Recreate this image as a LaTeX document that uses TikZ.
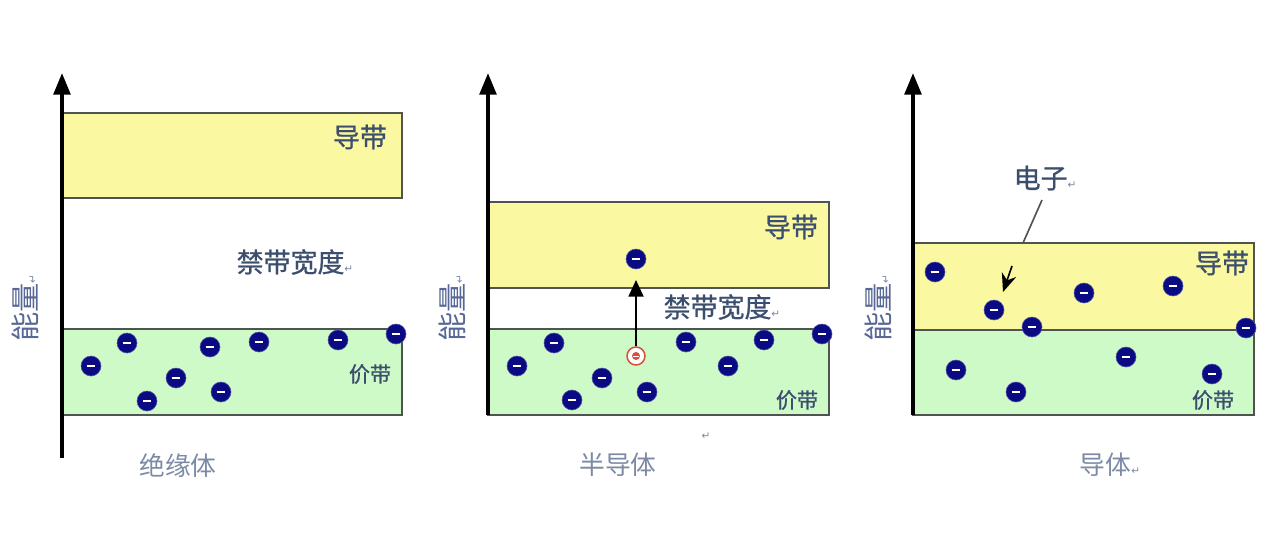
\documentclass[tikz,border=0pt]{standalone}
\usepackage{fontspec}
\setmainfont{Noto Sans CJK SC}
\newfontfamily\boldcjk[FakeBold=0.9]{Noto Sans CJK SC}
\newfontfamily\symfont{DejaVu Sans}
\usepackage{tikz}
\usetikzlibrary{arrows.meta, positioning, calc}
\definecolor{cbyellow}{RGB}{250, 248, 160}
\definecolor{vbgreen}{RGB}{206, 250, 200}
\definecolor{bandline}{RGB}{80, 84, 80}
\definecolor{elecblue}{RGB}{10, 10, 130}
\definecolor{holered}{RGB}{215, 80, 60}
\definecolor{darklabel}{RGB}{60, 78, 110}
\definecolor{lightlabel}{RGB}{125, 138, 165}
\definecolor{axislabel}{RGB}{88, 104, 150}
\newcommand{\retmark}{{\symfont\fontsize{9}{9}\selectfont\textcolor{lightlabel}{↵}}}

\tikzset{
    axis/.style={line width=3.2pt, -{Triangle[length=6.5mm, width=5mm]}},
    cband/.style={fill=cbyellow, draw=bandline, line width=2pt},
    vband/.style={fill=vbgreen, draw=bandline, line width=2pt},
    elec/.style={circle, fill=elecblue, draw=elecblue!70!white, line width=0.5pt,
                 minimum size=6mm, inner sep=0pt,
                 path picture={\draw[white, line width=1.3pt]
                   ($(path picture bounding box.center)+(-1.3mm,0)$) --
                   ($(path picture bounding box.center)+(1.3mm,0)$);}},
    hole/.style={circle, draw=holered, line width=1.3pt, fill=white, minimum size=5.4mm, inner sep=0pt,
                 path picture={\fill[holered] (path picture bounding box.center) circle (1.2mm);
                   \draw[white, line width=0.6pt]
                   ($(path picture bounding box.center)+(-0.8mm,0)$) --
                   ($(path picture bounding box.center)+(0.8mm,0)$);}},
    bandtext/.style={text=darklabel, font=\boldcjk\fontsize{23}{26}\selectfont, inner sep=0pt},
    vbtext/.style={text=darklabel, font=\boldcjk\fontsize{18}{20}\selectfont, inner sep=0pt},
    kindtext/.style={text=lightlabel, font=\fontsize{22}{25}\selectfont, inner sep=0pt},
    energytext/.style={text=axislabel, font=\fontsize{25}{28}\selectfont, rotate=90, inner sep=0pt},
}

\begin{document}
\begin{tikzpicture}[x=0.3mm, y=-0.3mm]
    \useasboundingbox[fill=white] (0,0) rectangle (1269,544);

    % insulator
    \draw[cband] (62,113) rectangle (402,198);
    \draw[vband] (62,329) rectangle (402,415);
    \draw[axis] (62,458) -- (62,73);
    \node[bandtext] (cb1) at (360,137) {导带};
    \node[bandtext] (gap1) at (295,262) {禁带宽度\retmark};
    \node[vbtext] (vb1) at (370,374) {价带};
    \node[kindtext] (kind1) at (178,466) {绝缘体};
    \node[energytext] (en1) at (25,308) {能量\retmark};
    \foreach \x/\y [count=\i] in {91/366, 127/343, 147/401, 176/378, 210/347,
                                 221/392, 259/342, 338/340, 396/334}
        \node[elec] (e1-\i) at (\x,\y) {};

    % semiconductor
    \draw[cband] (488,202) rectangle (829,288);
    \draw[vband] (488,329) rectangle (829,415);
    \draw[axis] (488,415) -- (488,73);
    \node[bandtext] (cb2) at (791,227) {导带};
    \node[bandtext] (gap2) at (722,307) {禁带宽度\retmark};
    \node[vbtext] (vb2) at (797,400) {价带};
    \node[kindtext] (kind2) at (618,465) {半导体};
    \node at (706,436) {\retmark};
    \node[energytext] (en2) at (452,308) {能量\retmark};
    \foreach \x/\y [count=\i] in {517/366, 554/343, 572/400, 602/378, 647/392,
                                 686/342, 728/366, 764/340, 822/334}
        \node[elec] (e2-\i) at (\x,\y) {};
    \node[elec] (jump) at (636,259) {};
    \node[hole] (h2) at (636,356) {};
    \coordinate (cbbot2) at (636,280);
    \draw[line width=1.6pt, -{Triangle[length=5mm, width=4.5mm]}] (h2) -- (cbbot2);

    % conductor
    \draw[cband] (913,243) rectangle (1254,330);
    \draw[vband] (913,330) rectangle (1254,415);
    \draw[axis] (913,415) -- (913,73);
    \node[bandtext] (cb3) at (1222,263) {导带};
    \node[vbtext] (vb3) at (1213,400) {价带};
    \node[kindtext] (kind3) at (1110,465) {导体\retmark};
    \node[energytext] (en3) at (878,308) {能量\retmark};
    \foreach \x/\y [count=\i] in {935/272, 994/310, 1032/327, 1084/293, 1173/286,
                                 1246/328, 956/370, 1016/392, 1126/357, 1212/374}
        \node[elec] (e3-\i) at (\x,\y) {};
    \node[bandtext] (ez) at (1045,178) {电子\retmark};
    \coordinate (cbtop3) at (1023,243);
    \draw[line width=1.4pt, bandline] (1042,200) -- (cbtop3);
    \coordinate (ptr3) at (1012,266);
    \draw[line width=1.4pt, -{Stealth[length=5.5mm, width=4.5mm]}] (ptr3) -- (1003,292);
\end{tikzpicture}
\end{document}
